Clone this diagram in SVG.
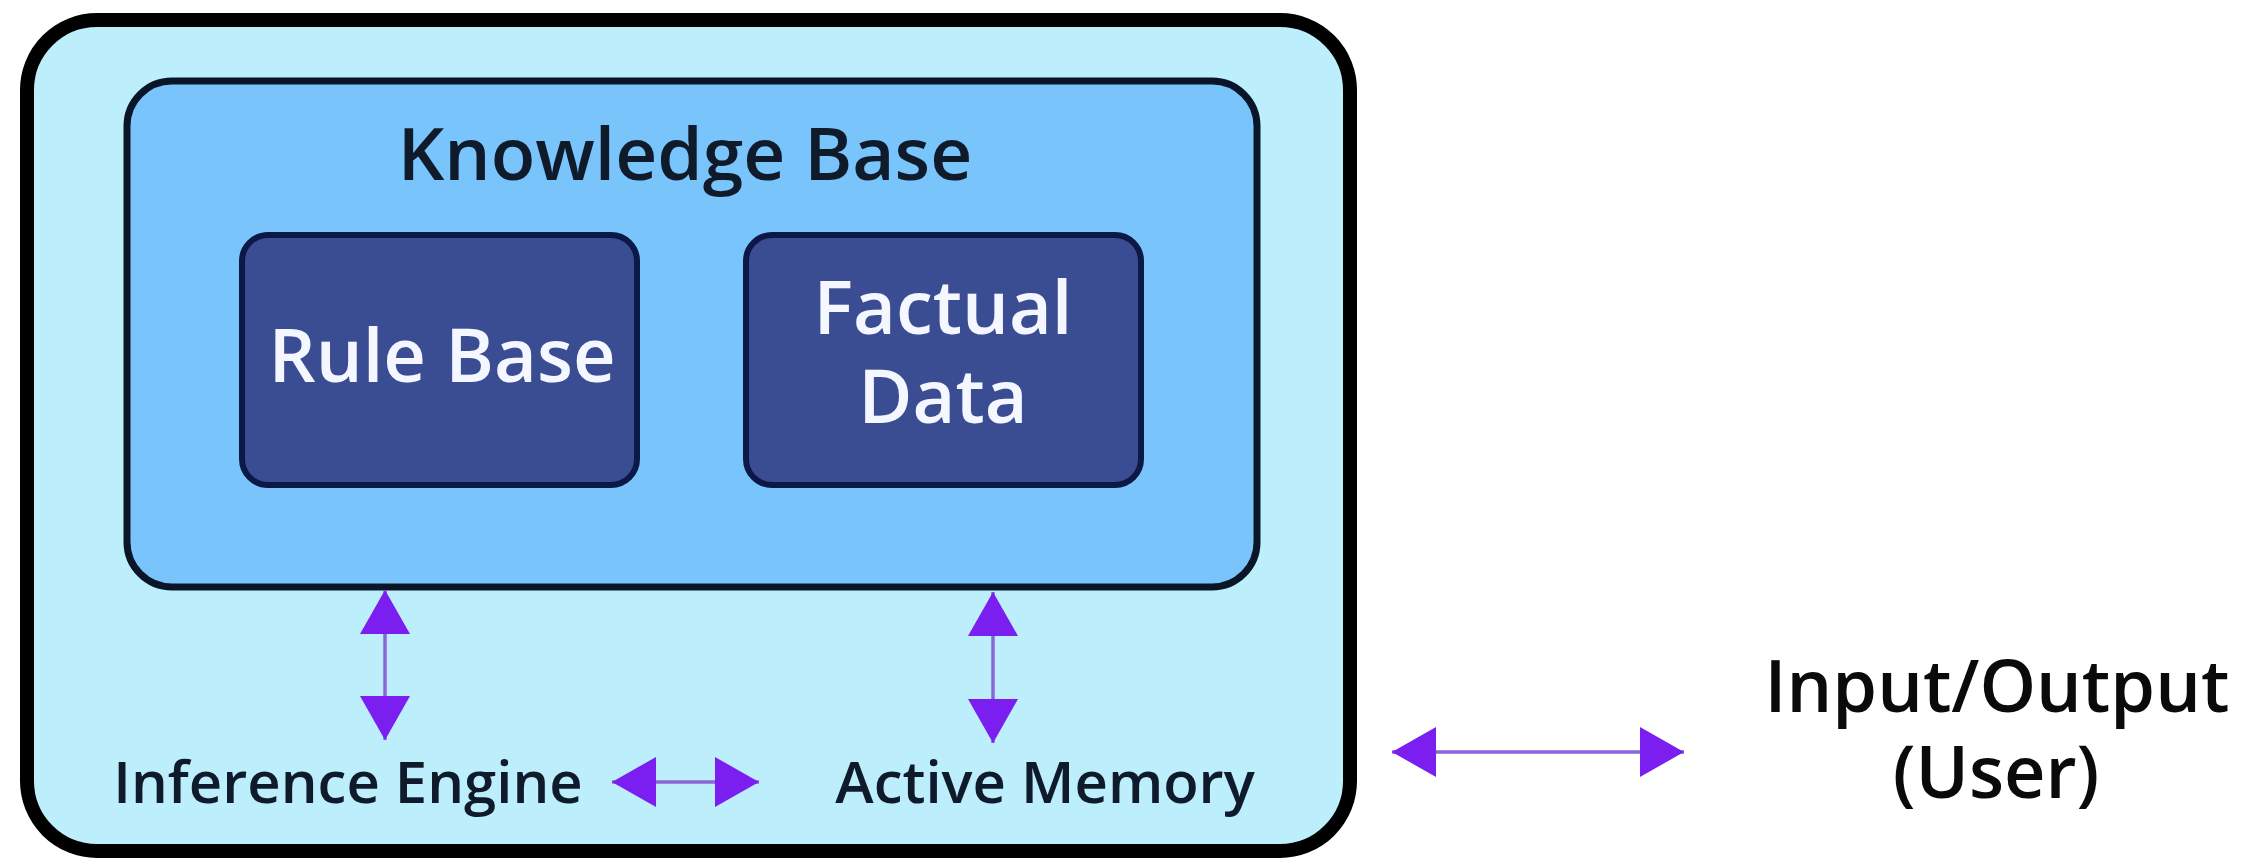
<svg xmlns="http://www.w3.org/2000/svg" width="2251" height="864" viewBox="0 0 2251 864">
<defs>
<style>
.lbl{font-family:"Open Sans","Noto Sans","Liberation Sans",sans-serif;font-weight:600;text-anchor:middle}
.dark{fill:#0f1a2b}
.white{fill:#f4f7ff}
.inner{fill:#3b4d92;stroke:#0c1845;stroke-width:6}
.conn{stroke:#8a64d8;stroke-width:3.5;fill:none;marker-start:url(#head);marker-end:url(#head)}
</style>
<marker id="head" viewBox="0 0 44 50" refX="44" refY="25" markerWidth="44" markerHeight="50" markerUnits="userSpaceOnUse" orient="auto-start-reverse">
<path d="M0,0 L44,25 L0,50 Z" fill="#7a1ff0"/>
</marker>
</defs>
<rect width="2251" height="864" fill="#ffffff"/>
<g id="expert-system">
<rect x="27" y="20" width="1323" height="831" rx="70" fill="#bceefc" stroke="#000000" stroke-width="14"/>
</g>
<g id="knowledge-base">
<rect x="127" y="81" width="1130" height="506" rx="45" fill="#79c4fa" stroke="#0a1628" stroke-width="7"/>
<text class="lbl dark" x="685" y="180" font-size="73">Knowledge Base</text>
</g>
<g id="rule-base">
<rect class="inner" x="242" y="235" width="395" height="250" rx="26"/>
<text class="lbl white" x="442" y="382" font-size="74">Rule Base</text>
</g>
<g id="factual-data">
<rect class="inner" x="746" y="235" width="395" height="250" rx="26"/>
<text class="lbl white" font-size="74"><tspan x="943" y="334">Factual</tspan><tspan x="943" y="423">Data</tspan></text>
</g>
<g id="inference-engine">
<text class="lbl dark" x="348" y="803" font-size="58">Inference Engine</text>
</g>
<g id="active-memory">
<text class="lbl dark" x="1045" y="803" font-size="58">Active Memory</text>
</g>
<g id="input-output">
<text class="lbl" font-size="72" fill="#0a0a0a" font-weight="400"><tspan x="1997" y="712">Input/Output</tspan><tspan x="1996" y="798">(User)</tspan></text>
</g>
<g id="connectors">
<line class="conn" x1="385" y1="590" x2="385" y2="740"/>
<line class="conn" x1="993" y1="592" x2="993" y2="743"/>
<line class="conn" x1="612" y1="782" x2="759" y2="782"/>
<line class="conn" x1="1392" y1="752" x2="1684" y2="752"/>
</g>
</svg>
